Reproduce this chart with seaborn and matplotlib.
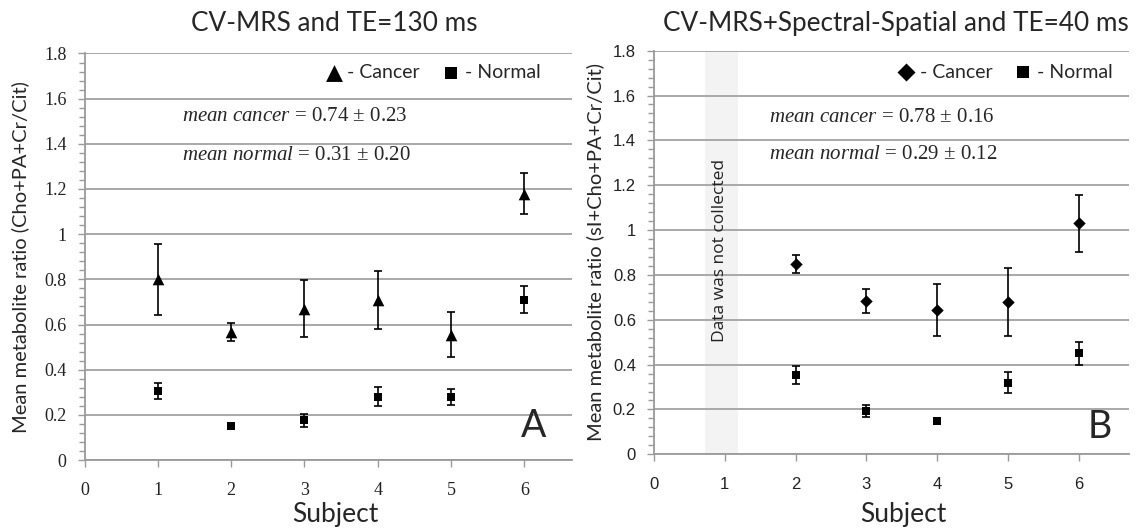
import matplotlib
matplotlib.use("Agg")
import matplotlib.pyplot as plt
from matplotlib.ticker import MultipleLocator, FuncFormatter
import seaborn as sns
import pandas as pd

# ---- data -------------------------------------------------------------
subjects_a = [1, 2, 3, 4, 5, 6]
cancer_a = [0.80, 0.565, 0.67, 0.71, 0.555, 1.18]
cancer_a_err = [0.158, 0.040, 0.125, 0.128, 0.100, 0.090]
normal_a = [0.307, 0.150, 0.175, 0.280, 0.280, 0.710]
normal_a_err = [0.035, 0.012, 0.027, 0.042, 0.035, 0.060]

subjects_b = [2, 3, 4, 5, 6]
cancer_b = [0.85, 0.685, 0.645, 0.68, 1.03]
cancer_b_err = [0.041, 0.053, 0.116, 0.152, 0.127]
normal_b = [0.355, 0.195, 0.150, 0.320, 0.450]
normal_b_err = [0.041, 0.027, 0.010, 0.046, 0.052]

title_a = "CV-MRS and TE=130 ms"
title_b = "CV-MRS+Spectral-Spatial and TE=40 ms"
ylabel_a = "Mean metabolite ratio (Cho+PA+Cr/Cit)"
ylabel_b = "Mean metabolite ratio (sI+Cho+PA+Cr/Cit)"
means_a = ["0.74 ± 0.23", "0.31 ± 0.20"]
means_b = ["0.78 ± 0.16", "0.29 ± 0.12"]
x_ticks = [0, 1, 2, 3, 4, 5, 6]
y_ticks = [0, 0.2, 0.4, 0.6, 0.8, 1.0, 1.2, 1.4, 1.6, 1.8]
missing_note = "Data was not collected"

# ---- style ------------------------------------------------------------
sns.set_theme(style="white")
plt.rcParams["font.family"] = ["Lato", "DejaVu Sans"]
plt.rcParams["mathtext.fontset"] = "custom"
plt.rcParams["mathtext.rm"] = "Liberation Serif"
plt.rcParams["mathtext.it"] = "Liberation Serif:italic"

GRID = "#a8a8a8"
SPINE = "#9a9a9a"
SERIF = ["Liberation Serif", "DejaVu Serif"]
NARROW = ["Liberation Sans Narrow", "Liberation Sans", "DejaVu Sans"]

fig = plt.figure(figsize=(11.45, 5.29), dpi=100)
ax_a = fig.add_axes([0.0738, 0.1304, 0.4258, 0.7685])
ax_b = fig.add_axes([0.5712, 0.1412, 0.4148, 0.7630])


def draw_panel(ax, subj, canc, canc_err, norm, norm_err, cancer_marker,
               cancer_size, xmax, tick_family, tick_size, xpad):
    df_c = pd.DataFrame({"Subject": subj, "ratio": canc})
    df_n = pd.DataFrame({"Subject": subj, "ratio": norm})
    ax.errorbar(subj, canc, yerr=canc_err, fmt="none", ecolor="black",
                elinewidth=1.2, capsize=3, capthick=1.2, zorder=3)
    ax.errorbar(subj, norm, yerr=norm_err, fmt="none", ecolor="black",
                elinewidth=1.2, capsize=3, capthick=1.2, zorder=3)
    sns.scatterplot(data=df_c, x="Subject", y="ratio", ax=ax,
                    marker=cancer_marker, s=cancer_size, color="black",
                    edgecolor="black", linewidth=0, zorder=4,
                    label="- Cancer")
    sns.scatterplot(data=df_n, x="Subject", y="ratio", ax=ax,
                    marker="s", s=36, color="black", edgecolor="black",
                    linewidth=0, zorder=4, label="- Normal")

    ax.set_xlim(0, xmax)
    ax.set_ylim(0, 1.8)
    ax.set_xticks(x_ticks)
    ax.set_yticks(y_ticks)
    ax.yaxis.set_minor_locator(MultipleLocator(0.04))
    ax.yaxis.set_major_formatter(FuncFormatter(lambda v, p: f"{v:g}"))
    ax.set_axisbelow(True)
    ax.grid(axis="y", color=GRID, linewidth=1.4)
    ax.grid(axis="x", visible=False)
    for side in ("top", "right"):
        ax.spines[side].set_visible(False)
    for side in ("left", "bottom"):
        ax.spines[side].set_color(SPINE)
        ax.spines[side].set_linewidth(1.3)
    ax.tick_params(axis="y", which="major", direction="out", length=5,
                   width=1, color=SPINE, left=True, pad=8)
    ax.tick_params(axis="y", which="minor", direction="out", length=4,
                   width=1, color=SPINE, left=True)
    ax.tick_params(axis="x", which="major", direction="out", length=5,
                   width=1, color=SPINE, bottom=True, pad=xpad)
    for lab in ax.get_xticklabels() + ax.get_yticklabels():
        lab.set_family(tick_family)
        lab.set_fontsize(tick_size)
        lab.set_color("#222222")
    ax.set_xlabel("")
    ax.set_ylabel("")


draw_panel(ax_a, subjects_a, cancer_a, cancer_a_err, normal_a, normal_a_err,
           "^", 70, 6.65, SERIF, 13, 11)
draw_panel(ax_b, subjects_b, cancer_b, cancer_b_err, normal_b, normal_b_err,
           "D", 40, 6.71, NARROW, 12, 11)

# shaded column for the subject without spectral-spatial data
ax_b.axvspan(0.72, 1.19, ymin=0, ymax=1, color="#f3f3f3", zorder=0.2, lw=0)
ax_b.text(0.93, 0.91, missing_note, rotation=90, ha="center", va="center",
          fontsize=12.5, family=["Open Sans", "DejaVu Sans"],
          color="#222222", zorder=5)

# legends
for ax, anchor in ((ax_a, (0.935, 0.954)), (ax_b, (0.966, 0.947))):
    ax.legend(loc="center right", bbox_to_anchor=anchor, ncol=2,
              frameon=False, fontsize=14, markerscale=1.45,
              handlelength=0.8, handletextpad=0.3, columnspacing=1.2,
              borderpad=0, borderaxespad=0)

# mean annotations
for ax, x0, ys, vals in ((ax_a, 1.33, (1.52, 1.35), means_a),
                         (ax_b, 1.63, (1.50, 1.335), means_b)):
    ax.text(x0, ys[0], r"$\mathit{mean\ cancer}$ = " + vals[0],
            family=SERIF, fontsize=15, ha="left", va="center")
    ax.text(x0, ys[1], r"$\mathit{mean\ normal}$ = " + vals[1],
            family=SERIF, fontsize=15, ha="left", va="center")

# panel letters
ax_a.text(6.12, 0.15, "A", fontsize=27, ha="center", va="center")
ax_b.text(6.30, 0.12, "B", fontsize=27, ha="center", va="center")

# axis labels
ax_a.set_ylabel(ylabel_a, fontsize=14.5, va="center")
ax_a.yaxis.set_label_coords(-0.132, 0.5)
ax_b.set_ylabel(ylabel_b, fontsize=14.5, va="center")
ax_b.yaxis.set_label_coords(-0.124, 0.5)
ax_a.set_xlabel("Subject", fontsize=19, va="center")
ax_a.xaxis.set_label_coords(0.514, -0.135)
ax_b.set_xlabel("Subject", fontsize=19, va="center")
ax_b.xaxis.set_label_coords(0.524, -0.150)

# titles
fig.text(0.292, 0.956, title_a, fontsize=18.8, ha="center", va="center")
fig.text(0.782, 0.956, title_b, fontsize=18.8, ha="center", va="center")

fig.savefig("out.png", dpi=100)
